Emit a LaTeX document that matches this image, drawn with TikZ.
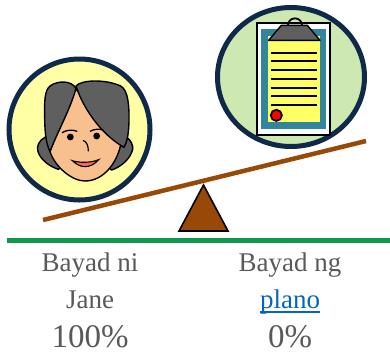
\documentclass[tikz,border=0pt]{standalone}
\usepackage{fontspec}
\setmainfont{Liberation Serif}
\definecolor{navy}{HTML}{10294A}
\definecolor{ltyellow}{HTML}{FFFFA6}
\definecolor{ltgreen}{HTML}{CDE8B0}
\definecolor{beam}{HTML}{984807}
\definecolor{grn}{HTML}{0F9650}
\definecolor{skin}{HTML}{F8BF8F}
\definecolor{hair}{HTML}{5F5F5F}
\definecolor{teal}{HTML}{31859C}
\definecolor{pad}{HTML}{FFFF66}
\definecolor{txt}{HTML}{595959}
\definecolor{lnk}{HTML}{0563C1}
\tikzset{
  outline/.style={draw=black,line width=1.4pt,line join=round},
  badge/.style={draw=navy,line width=5pt},
  padline/.style={draw=black,line width=1.7pt},
  label/.style={font=\fontsize{27}{30}\selectfont,text=txt,anchor=base,inner sep=0pt},
  pct/.style={font=\fontsize{33}{36}\selectfont,text=txt,anchor=base,inner sep=0pt},
}
\begin{document}
\begin{tikzpicture}[x=1pt,y=-1pt]
\useasboundingbox (0,0) rectangle (390,354);
% badges
\path[badge,fill=ltyellow] (79.5,129.5) circle [radius=70.5pt];
\path[badge,fill=ltgreen] (291,77) ellipse [x radius=73.5pt,y radius=69.5pt];
% face
\begin{scope}[shift={(0,50)},x=0.3333pt,y=-0.3333pt]
  \path[outline,fill=hair] (135,262) .. controls (118,270) and (108,290) .. (114,305) .. controls (122,330) and (150,350) .. (175,358) -- (255,300) -- (335,360) .. controls (365,350) and (392,325) .. (398,298) .. controls (400,285) and (392,270) .. (380,262) -- cycle;
  \path[outline,fill=skin] (228,118) .. controls (190,170) and (165,240) .. (150,305) .. controls (165,350) and (215,393) .. (255,393) .. controls (310,393) and (350,340) .. (362,285) .. controls (320,200) and (260,150) .. (228,118) -- cycle;
  \path[outline,fill=hair] (228,115) .. controls (215,92) and (175,90) .. (150,108) .. controls (135,120) and (133,150) .. (134,190) .. controls (134,230) and (135,275) .. (150,305) .. controls (175,240) and (210,180) .. (228,115) -- cycle;
  \path[outline,fill=hair] (228,108) .. controls (245,88) and (320,88) .. (362,108) .. controls (385,120) and (388,170) .. (387,215) .. controls (386,250) and (382,275) .. (372,292) .. controls (315,260) and (255,190) .. (228,108) -- cycle;
  \fill (211,261) circle [radius=3.4pt];
  \fill (290,258) circle [radius=3.4pt];
  \draw[line width=1.3pt] (186,248) .. controls (200,240) and (215,238) .. (232,244);
  \draw[line width=1.3pt] (270,244) .. controls (283,237) and (297,236) .. (310,240);
  \draw[line width=1.2pt,line cap=round] (250,272) .. controls (260,274) and (265,288) .. (265,303);
  \path[draw=black,line width=1.1pt,fill=red!45!skin] (217,332) .. controls (235,338) and (270,340) .. (296,329) .. controls (285,342) and (270,350) .. (255,350) .. controls (240,350) and (228,342) .. (217,332) -- cycle;
\end{scope}
% clipboard
\begin{scope}[shift={(210,0)},x=0.3333pt,y=-0.3333pt]
  \path[draw=black,line width=1.7pt,fill=white] (140,70) rectangle (360,406);
  \fill[teal] (154,87) rectangle (348,386);
  \fill[pad] (174,107) rectangle (329,366);
  \draw[line width=1.8pt] (234,76) arc [start angle=180,end angle=0,radius=7pt];
  \path[outline,fill=hair] (214,76) -- (292,76) -- (330,121) -- (176,121) -- cycle;
  \foreach \yy in {158,184,210,237,263,289,315}
    \path[padline] (182,\yy) -- (320,\yy);
  \path[draw=black,line width=1.7pt,fill=red] (199,346) circle [radius=5.6pt];
\end{scope}
% seesaw
\draw[beam,line width=4.5pt] (43,220) -- (366,141);
\path[draw=black,line width=1.6pt,line join=miter,fill=beam] (203.5,185) -- (228,231) -- (179,231) -- cycle;
\draw[grn,line width=5pt] (7,240) -- (390,240);
% labels
\node[label] (l1) at (90,271) {Bayad ni};
\node[label] (l2) at (90,308) {Jane};
\node[pct] (l3) at (90,347.5) {100\%};
\node[label] (r1) at (290,271) {Bayad ng};
\node[label,text=lnk] (r2) at (290,308) {plano};
\node[pct] (r3) at (290,347.5) {0\%};
\draw[lnk,line width=1.3pt] ([yshift=-4pt]r2.base west) -- ([yshift=-4pt]r2.base east);
\end{tikzpicture}
\end{document}
